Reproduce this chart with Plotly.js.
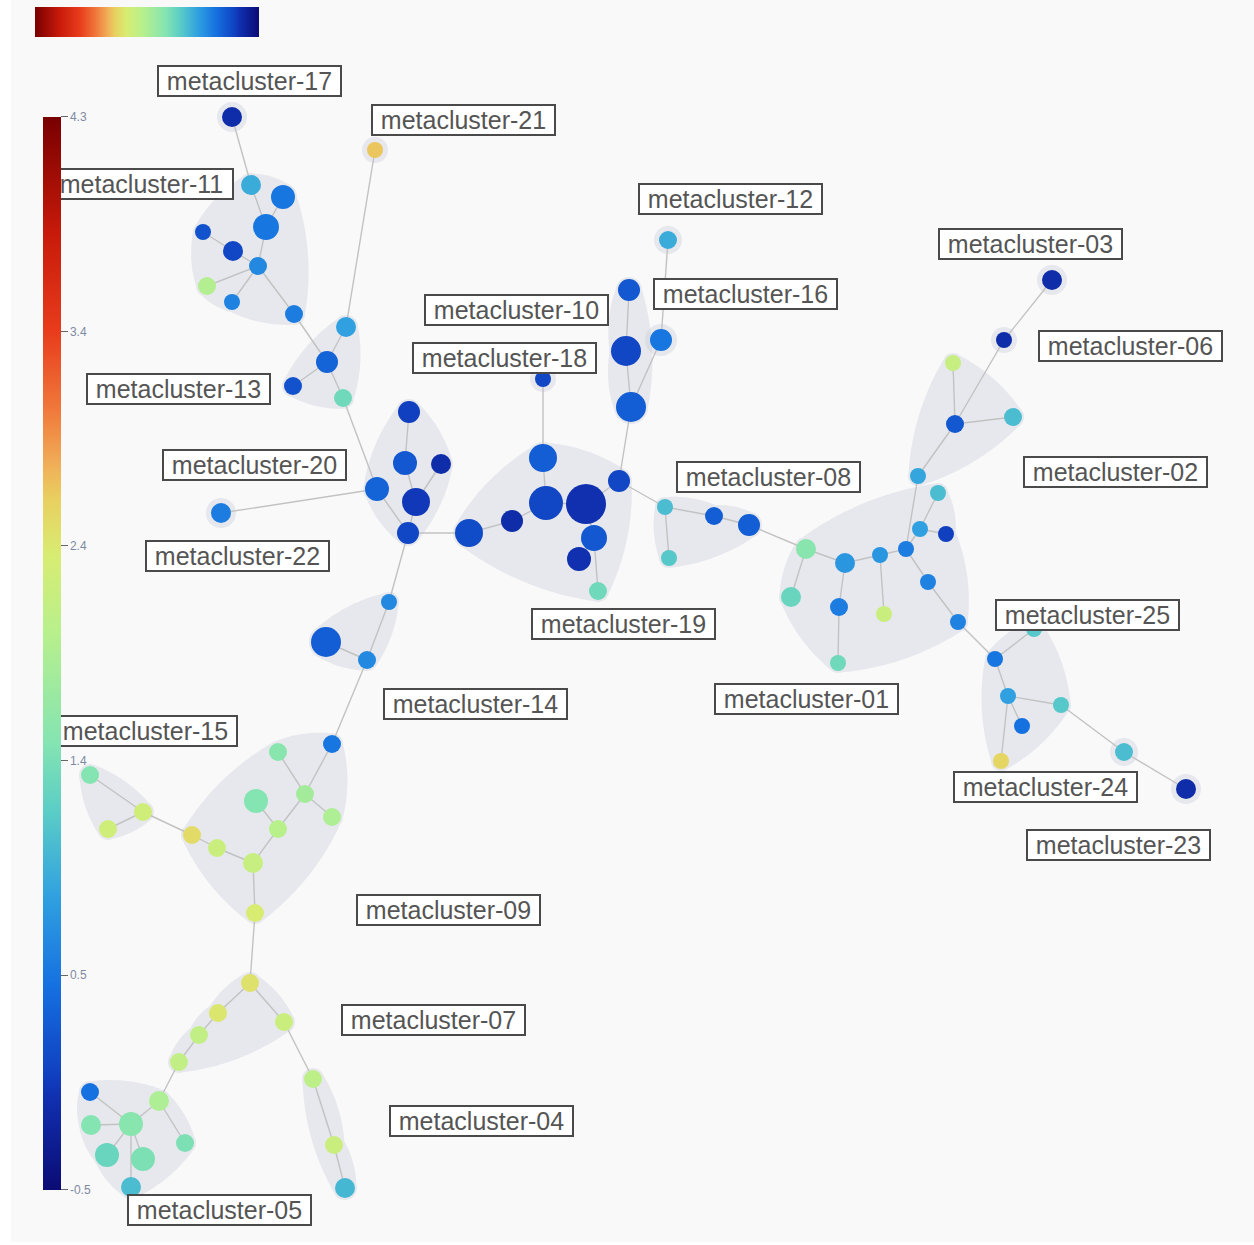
<!DOCTYPE html>
<html>
<head>
<meta charset="utf-8">
<script src="https://cdn.plot.ly/plotly-3.0.1.min.js"></script>
<style>
  html, body { margin: 0; padding: 0; background: #ffffff; }
  #chart { width: 1254px; height: 1245px; }
</style>
</head>
<body>
<div id="chart"></div>
<script>
// ---- minimum spanning tree: node layout coordinates, node size and median marker value ----
const nodeX = [
  232, 375,
  251, 283, 266, 203, 233, 258, 207, 232, 294,
  346, 327, 293, 343,
  409, 405, 441, 377, 416, 408,
  221,
  469, 512, 543, 546, 586, 594, 579, 598, 619,
  543,
  629, 626, 631,
  661, 668,
  665, 714, 749, 669,
  806, 845, 880, 906, 791, 839, 884, 928, 958, 838, 920, 938, 946,
  918, 953, 955, 1013,
  1004, 1052,
  995, 1034, 1008, 1022, 1001, 1061,
  1124, 1186,
  389, 326, 367,
  332, 278, 305, 256, 332, 278, 192, 217, 253, 255,
  90, 143, 108,
  250, 218, 199, 179, 284,
  313, 334, 345,
  90, 159, 91, 131, 185, 107, 143, 131
];
const nodeY = [
  117, 150,
  185, 197, 227, 232, 251, 266, 286, 302, 314,
  327, 362, 386, 398,
  412, 463, 464, 489, 502, 533,
  513,
  533, 521, 458, 503, 504, 538, 559, 591, 481,
  379,
  290, 351, 407,
  340, 240,
  507, 516, 525, 558,
  549, 563, 555, 549, 597, 607, 614, 582, 622, 663, 529, 493, 534,
  476, 363, 424, 417,
  340, 280,
  659, 629, 696, 726, 761, 705,
  752, 789,
  602, 642, 660,
  744, 752, 794, 801, 817, 829, 835, 848, 863, 913,
  775, 812, 829,
  983, 1013, 1035, 1062, 1022,
  1079, 1145, 1188,
  1092, 1101, 1125, 1124, 1143, 1155, 1159, 1187
];
const nodeSize = [
  20, 16,
  20, 24, 26, 16, 20, 18, 18, 16, 18,
  20, 22, 18, 18,
  22, 24, 20, 24, 28, 22,
  20,
  28, 22, 28, 34, 40, 26, 24, 18, 22,
  16,
  22, 30, 30,
  22, 18,
  16, 18, 22, 16,
  20, 20, 16, 16, 20, 18, 16, 16, 16, 16, 16, 16, 16,
  16, 16, 18, 18,
  16, 20,
  16, 16, 16, 16, 16, 16,
  18, 20,
  16, 30, 18,
  18, 18, 18, 24, 18, 18, 18, 18, 20, 18,
  18, 18, 18,
  18, 18, 18, 18, 18,
  18, 18, 20,
  18, 20, 20, 24, 18, 24, 24, 20
];
const nodeValue = [
  -0.15, 2.65,
  0.9, 0.45, 0.45, 0.15, 0.05, 0.6, 1.95, 0.55, 0.5,
  0.8, 0.3, 0.15, 1.35,
  0.0, 0.2, -0.15, 0.3, -0.05, 0.05,
  0.5,
  0.1, -0.15, 0.25, 0.05, -0.1, 0.2, -0.1, 1.35, 0.05,
  0.05,
  0.2, 0.05, 0.25,
  0.45, 0.9,
  1.05, 0.25, 0.25, 1.15,
  1.55, 0.72, 0.72, 0.5, 1.3, 0.5, 2.2, 0.55, 0.55, 1.35, 0.8, 1.05, 0.0,
  0.85, 2.15, 0.2, 1.05,
  -0.15, -0.15,
  0.45, 1.15, 0.8, 0.4, 2.55, 1.15,
  1.05, -0.15,
  0.6, 0.25, 0.6,
  0.45, 1.55, 1.8, 1.5, 1.9, 2.0, 2.5, 2.2, 2.15, 2.35,
  1.5, 2.25, 2.25,
  2.45, 2.4, 2.1, 2.1, 2.2,
  2.05, 2.2, 1.0,
  0.4, 1.9, 1.5, 1.55, 1.45, 1.3, 1.45, 1.05
];

// tree edges as node index pairs
const edgeFrom = [0, 2, 3, 4, 5, 6, 8, 9, 7, 10,
  1, 11, 12, 12, 14,
  15, 16, 17, 18, 19, 18, 20, 20,
  22, 23, 25, 24, 25, 26, 26, 27, 27,
  30, 34, 33, 34, 35,
  30, 37, 38, 37, 39,
  41, 41, 42, 42, 46, 43, 43, 44, 44, 51, 51, 44, 48, 49,
  54, 56, 56, 56, 58,
  60, 60, 62, 62, 62, 65, 66,
  68, 69, 70,
  71, 72, 73, 73, 74, 76, 77, 78, 79, 80, 77,
  81, 83,
  84, 85, 86, 87, 84, 88,
  89, 90,
  93, 93, 92, 94, 97, 98, 99];
const edgeTo = [2, 4, 4, 7, 6, 7, 7, 7, 10, 12,
  11, 12, 13, 14, 18,
  16, 19, 19, 20, 20, 21, 22, 68,
  23, 25, 24, 31, 26, 30, 27, 29, 28,
  34, 33, 32, 35, 36,
  37, 38, 39, 40, 41,
  42, 45, 43, 46, 50, 44, 47, 54, 51, 52, 53, 48, 49, 60,
  56, 55, 57, 58, 59,
  61, 62, 65, 63, 64, 66, 67,
  70, 70, 71,
  73, 73, 75, 76, 76, 79, 78, 79, 80, 84, 82,
  82, 82,
  85, 86, 87, 93, 88, 89,
  90, 91,
  95, 96, 95, 95, 95, 95, 95];

// metacluster membership (node indices)
const metaclusterNames = [
  'metacluster-01', 'metacluster-02', 'metacluster-03', 'metacluster-04', 'metacluster-05',
  'metacluster-06', 'metacluster-07', 'metacluster-08', 'metacluster-09', 'metacluster-10',
  'metacluster-11', 'metacluster-12', 'metacluster-13', 'metacluster-14', 'metacluster-15',
  'metacluster-16', 'metacluster-17', 'metacluster-18', 'metacluster-19', 'metacluster-20',
  'metacluster-21', 'metacluster-22', 'metacluster-23', 'metacluster-24', 'metacluster-25'
];
const metaclusterNodes = [
  [41, 42, 43, 44, 45, 46, 47, 48, 49, 50, 51, 52, 53],
  [54, 55, 56, 57],
  [59],
  [89, 90, 91],
  [92, 93, 94, 95, 96, 97, 98, 99],
  [58],
  [84, 85, 86, 87, 88],
  [37, 38, 39, 40],
  [71, 72, 73, 74, 75, 76, 77, 78, 79, 80],
  [32, 33, 34],
  [2, 3, 4, 5, 6, 7, 8, 9, 10],
  [36],
  [11, 12, 13, 14],
  [68, 69, 70],
  [81, 82, 83],
  [35],
  [0],
  [31],
  [22, 23, 24, 25, 26, 27, 28, 29, 30],
  [15, 16, 17, 18, 19, 20],
  [1],
  [21],
  [67],
  [66],
  [60, 61, 62, 63, 64, 65]
];

// colour scale anchors (value -> colour) and colour bar labels
const scaleValues = [-0.52, -0.1, 0.0, 0.4, 0.8, 1.2, 1.5, 2.0, 2.35, 2.6, 2.75, 3.0, 3.36, 3.8, 4.33];
const scaleColors = ['#0b0b74', '#1030b0', '#1040c0', '#1570e0', '#30a0e0', '#5ccec6', '#84e4b2',
  '#b8f08c', '#d8ec72', '#e8d060', '#f0b058', '#f07a3c', '#e83c1c', '#c81a0a', '#780000'];
const colorTickText = ['-0.5', '0.5', '1.4', '2.4', '3.4', '4.3'];

// ---- presentation ----
const cmin = scaleValues[0];
const cmax = scaleValues[scaleValues.length - 1];
const colorscale = scaleValues.map((v, i) => [(v - cmin) / (cmax - cmin), scaleColors[i]]);
const tickVals = colorTickText.map((_, i) => cmin + i * (cmax - cmin) / (colorTickText.length - 1));

// label box centres, in tree layout coordinates
const labelAt = {
  'metacluster-01': [806, 699], 'metacluster-02': [1115, 472], 'metacluster-03': [1030, 244],
  'metacluster-04': [481, 1121], 'metacluster-05': [219, 1210], 'metacluster-06': [1130, 346],
  'metacluster-07': [433, 1020], 'metacluster-08': [768, 477], 'metacluster-09': [448, 910],
  'metacluster-10': [516, 310], 'metacluster-11': [141, 184], 'metacluster-12': [730, 199],
  'metacluster-13': [178, 389], 'metacluster-14': [475, 704], 'metacluster-15': [145, 731],
  'metacluster-16': [745, 294], 'metacluster-17': [249, 81], 'metacluster-18': [504, 358],
  'metacluster-19': [623, 624], 'metacluster-20': [254, 465], 'metacluster-21': [463, 120],
  'metacluster-22': [237, 556], 'metacluster-23': [1118, 845], 'metacluster-24': [1045, 787],
  'metacluster-25': [1087, 615]
};

// convex hull (monotone chain) of a point list, closed
function convexHull(pts) {
  pts = pts.slice().sort((a, b) => a[0] - b[0] || a[1] - b[1]);
  const cross = (o, a, b) => (a[0] - o[0]) * (b[1] - o[1]) - (a[1] - o[1]) * (b[0] - o[0]);
  const lower = [], upper = [];
  for (const p of pts) {
    while (lower.length >= 2 && cross(lower[lower.length - 2], lower[lower.length - 1], p) <= 0) lower.pop();
    lower.push(p);
  }
  for (let i = pts.length - 1; i >= 0; i--) {
    const p = pts[i];
    while (upper.length >= 2 && cross(upper[upper.length - 2], upper[upper.length - 1], p) <= 0) upper.pop();
    upper.push(p);
  }
  upper.pop(); lower.pop();
  return lower.concat(upper);
}

// soft blob around a set of nodes: hull of the node discs with gently bowed sides
function blob(idx, pad, bow) {
  const pts = [];
  idx.forEach(i => {
    const r = nodeSize[i] / 2 + pad;
    for (let k = 0; k < 36; k++) {
      const a = 2 * Math.PI * k / 36;
      pts.push([nodeX[i] + r * Math.cos(a), nodeY[i] + r * Math.sin(a)]);
    }
  });
  const h = convexHull(pts);
  let cx = 0, cy = 0;
  h.forEach(p => { cx += p[0]; cy += p[1]; });
  cx /= h.length; cy /= h.length;
  const out = [];
  for (let j = 0; j < h.length; j++) {
    const a = h[j], b = h[(j + 1) % h.length];
    const dx = b[0] - a[0], dy = b[1] - a[1];
    const L = Math.hypot(dx, dy);
    let nx = dy / (L || 1), ny = -dx / (L || 1);
    if (nx * ((a[0] + b[0]) / 2 - cx) + ny * ((a[1] + b[1]) / 2 - cy) < 0) { nx = -nx; ny = -ny; }
    const n = Math.max(1, Math.ceil(L / 3));
    for (let s = 0; s < n; s++) {
      const t = s / n;
      const off = bow * L * 4 * t * (1 - t);
      out.push([a[0] + t * dx + nx * off, a[1] + t * dy + ny * off]);
    }
  }
  out.push(out[0]);
  return out;
}

const traces = [];

// metacluster hulls
metaclusterNodes.forEach((idx, m) => {
  const h = idx.length > 1 ? blob(idx, 2, 0.06) : blob(idx, 5, 0);
  traces.push({
    type: 'scatter', mode: 'lines', name: metaclusterNames[m],
    x: h.map(p => p[0]), y: h.map(p => p[1]),
    fill: 'toself', fillcolor: 'rgba(200,203,215,0.36)',
    line: { width: 0, color: 'rgba(0,0,0,0)', shape: 'spline', smoothing: 1 },
    hoverinfo: 'skip', showlegend: false
  });
});

// edges
const ex = [], ey = [];
edgeFrom.forEach((a, k) => {
  const b = edgeTo[k];
  ex.push(nodeX[a], nodeX[b], null);
  ey.push(nodeY[a], nodeY[b], null);
});
traces.push({
  type: 'scatter', mode: 'lines', x: ex, y: ey,
  line: { color: '#c2c2c2', width: 1.4 },
  hoverinfo: 'skip', showlegend: false
});

// nodes, coloured by value
traces.push({
  type: 'scatter', mode: 'markers', x: nodeX, y: nodeY,
  text: nodeValue.map(v => v.toFixed(2)), hoverinfo: 'text', showlegend: false,
  marker: {
    size: nodeSize, color: nodeValue, colorscale: colorscale, cmin: cmin, cmax: cmax,
    line: { width: 0 }, opacity: 1,
    showscale: true,
    colorbar: {
      xref: 'container', yref: 'container',
      x: 43 / 1254, xanchor: 'left', y: 1 - 117 / 1245, yanchor: 'top',
      lenmode: 'pixels', len: 1073, thicknessmode: 'pixels', thickness: 18,
      xpad: 0, ypad: 0, outlinewidth: 0, borderwidth: 0,
      tickmode: 'array', tickvals: tickVals, ticktext: colorTickText,
      ticks: 'outside', ticklen: 7, tickwidth: 1, tickcolor: '#666666',
      tickfont: { family: 'Liberation Sans, Arial, sans-serif', size: 12, color: '#7d8aa3' }
    }
  }
});

// horizontal gradient key
traces.push({
  type: 'scatter', mode: 'markers', x: [null], y: [null], hoverinfo: 'skip', showlegend: false,
  marker: {
    color: [cmin], colorscale: colorscale, cmin: cmin, cmax: cmax, reversescale: true,
    showscale: true,
    colorbar: {
      orientation: 'h', xref: 'container', yref: 'container',
      x: 35 / 1254, xanchor: 'left', y: 1 - 7 / 1245, yanchor: 'top',
      lenmode: 'pixels', len: 224, thicknessmode: 'pixels', thickness: 30,
      xpad: 0, ypad: 0, outlinewidth: 0, borderwidth: 0,
      showticklabels: false, ticks: ''
    }
  }
});

const annotations = metaclusterNames.map(name => ({
  x: labelAt[name][0], y: labelAt[name][1], xref: 'x', yref: 'y',
  text: name, showarrow: false,
  font: { family: 'Liberation Sans, Arial, sans-serif', size: 25, color: '#555555' },
  bgcolor: '#ffffff', bordercolor: '#4a4a4a', borderwidth: 2, borderpad: 0,
  width: 181, height: 28, align: 'center', valign: 'middle'
}));

const layout = {
  width: 1254, height: 1245,
  margin: { l: 11, r: 0, t: 0, b: 3, pad: 0, autoexpand: false },
  paper_bgcolor: '#ffffff', plot_bgcolor: '#f9f9f9',
  xaxis: { range: [11, 1254], visible: false, fixedrange: true },
  yaxis: { range: [1242, 0], visible: false, fixedrange: true },
  showlegend: false,
  annotations: annotations,
  hovermode: 'closest'
};

Plotly.newPlot('chart', traces, layout, { displayModeBar: false, staticPlot: true }).then(gd => {
  // keep the colour bars above the label boxes
  const info = gd.querySelector('.infolayer');
  if (info) gd.querySelectorAll('.infolayer g.colorbar').forEach(c => info.appendChild(c));
});
</script>
</body>
</html>
